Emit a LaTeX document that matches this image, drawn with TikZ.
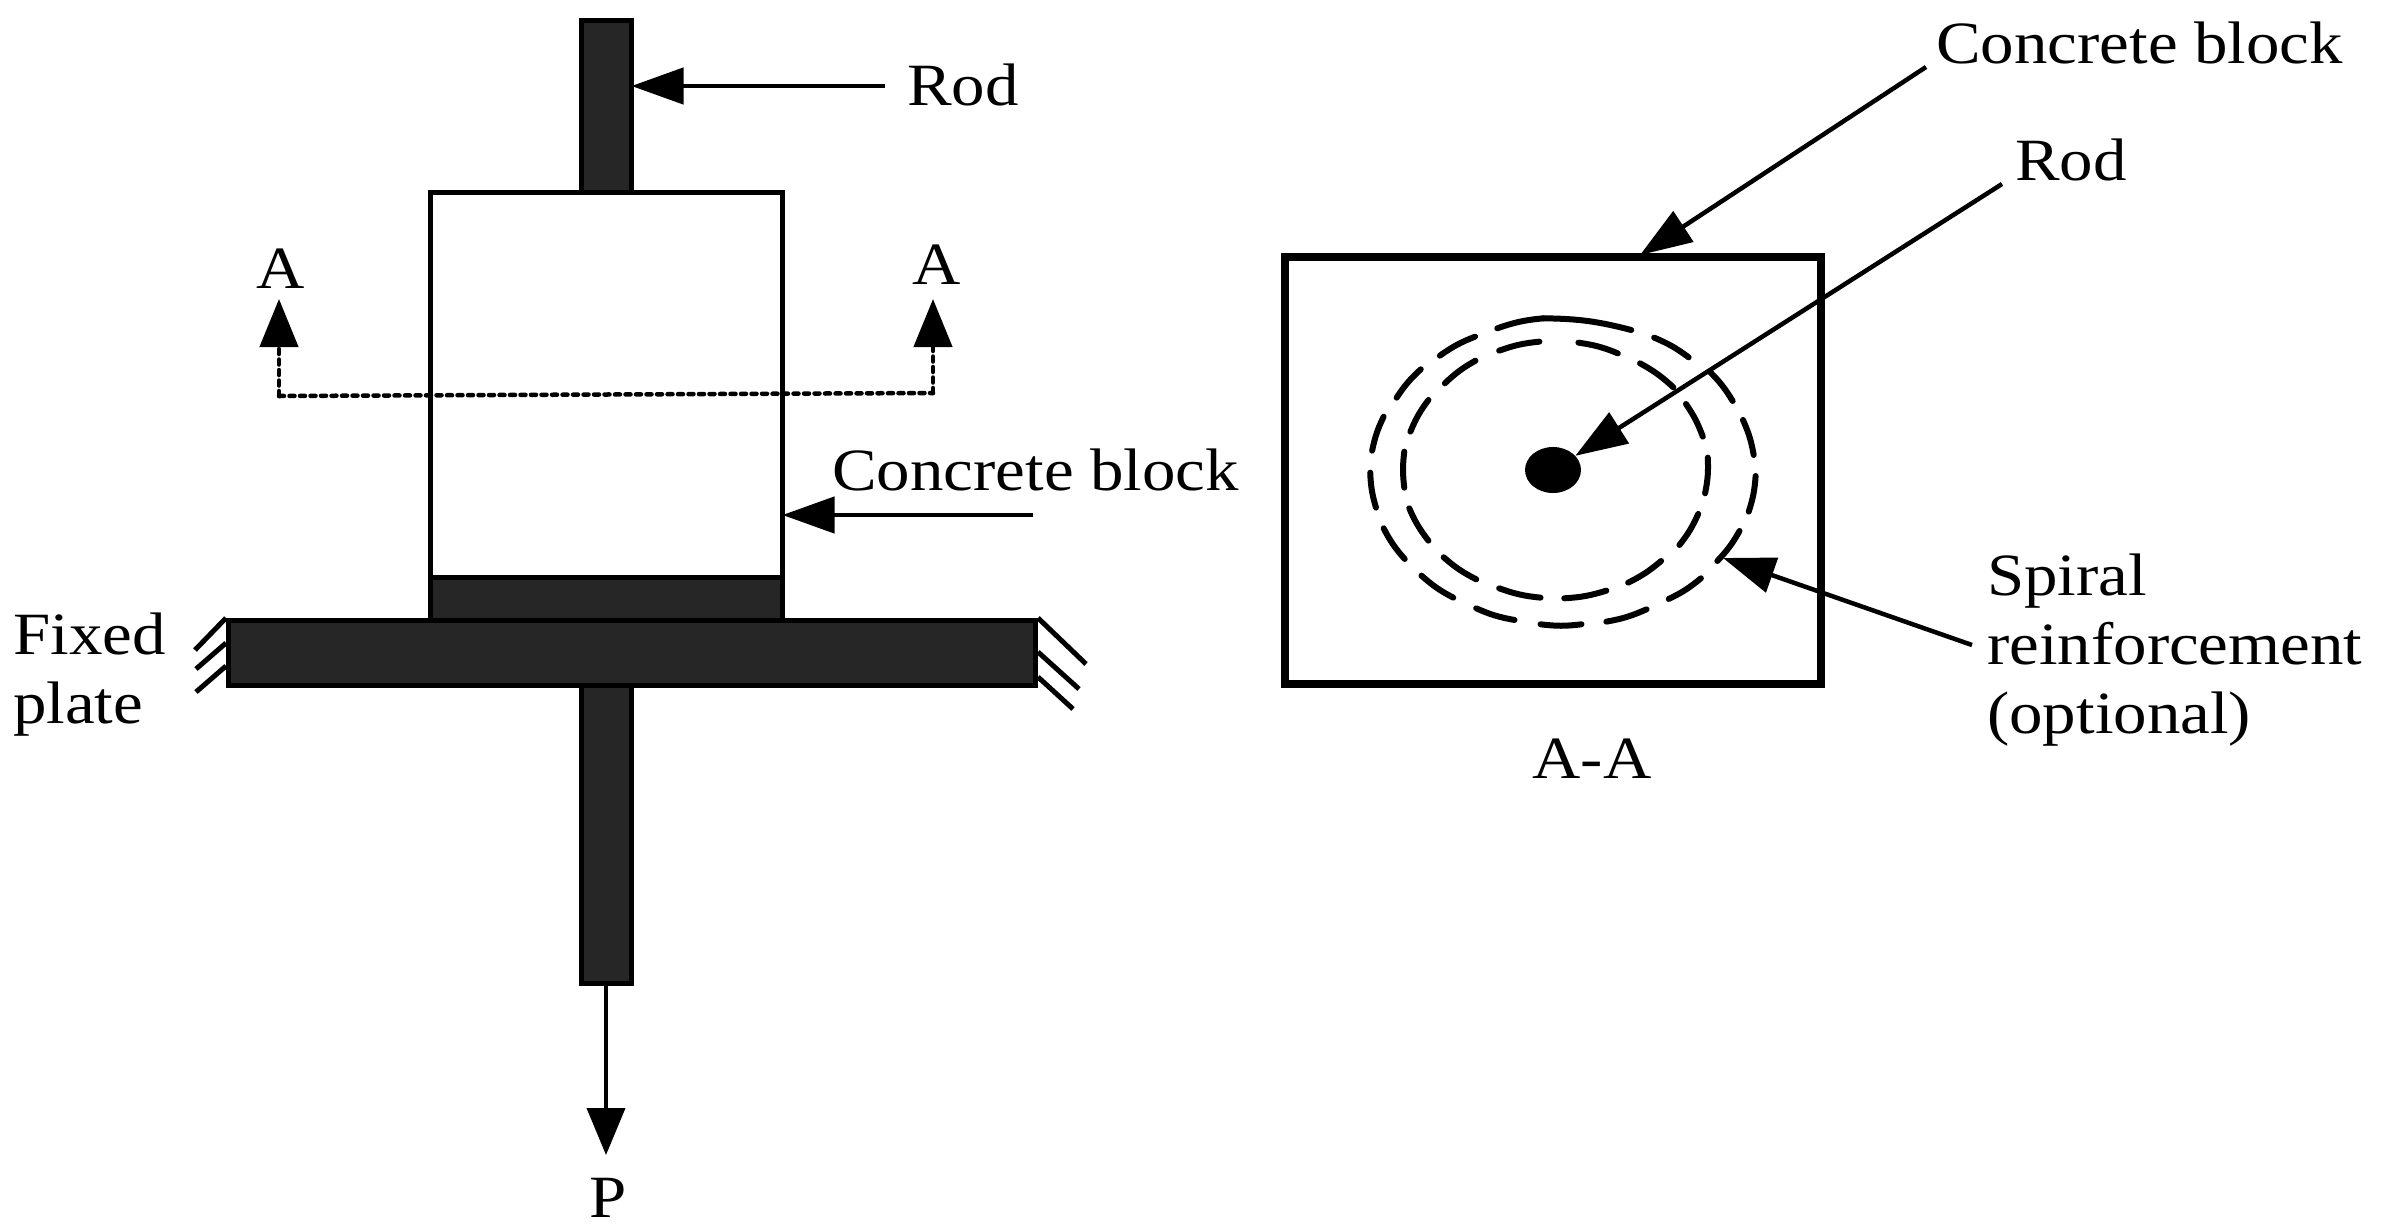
\documentclass[tikz,border=0pt]{standalone}
\usepackage{fontspec}
\setmainfont{Liberation Serif}
\usetikzlibrary{arrows.meta,shapes.geometric}
\tikzset{
  part/.style={draw=black,line width=5pt,fill=partfill,inner sep=0pt},
  lab/.style={font=\fontsize{60}{69}\selectfont,inner sep=0pt,anchor=base west,align=left,xscale=1.115,transform shape},
  labc/.style={lab,anchor=base},
  call/.style={line width=4.5pt,-{Triangle[length=52pt,width=36pt]}},
  callv/.style={line width=4pt,-{Triangle[length=47pt,width=38pt]}},
  cut/.style={line width=4.5pt,line cap=round,dash pattern=on 5pt off 5.5pt,-{Triangle[length=48pt,width=38pt]}},
  hatch/.style={line width=5pt},
  spiral/.style={line width=6pt,line cap=round},
}
\definecolor{partfill}{HTML}{262626}
\begin{document}
\begin{tikzpicture}[x=1pt,y=-1pt]
\useasboundingbox (0,0) rectangle (2384,1229);

% left view
\node[part,minimum width=50pt,minimum height=172pt] (rodTop) at (606,106) {};
\node[part,fill=white,minimum width=352pt,minimum height=386pt] (block) at (606,385) {};
\node[part,minimum width=352pt,minimum height=43pt] (base) at (606,599) {};
\node[part,minimum width=50pt,minimum height=298pt] (rodLow) at (606,834) {};
\node[part,minimum width=807pt,minimum height=65pt] (plate) at (632,653) {};

% wall hatching
\coordinate (hl1) at (195,650); \coordinate (hl2) at (196,669); \coordinate (hl3) at (196,692);
\coordinate (hr1) at (1086,664); \coordinate (hr2) at (1079,689); \coordinate (hr3) at (1073,709);
\draw[hatch] (plate.north west) -- (hl1);
\draw[hatch] ([yshift=10pt]plate.west) -- (hl2);
\draw[hatch] ([yshift=-13pt]plate.west) -- (hl3);
\draw[hatch] (plate.north east) -- (hr1);
\draw[hatch] ([yshift=1pt]plate.east) -- (hr2);
\draw[hatch] ([yshift=-24pt]plate.east) -- (hr3);

% labels on the left
\node[lab] (tRodL) at (907,105) {Rod};
\node[lab] (tBlockL) at (832,490) {Concrete block};
\node[lab] (tFixed) at (13,723) {Fixed\\plate};
\node[labc] (tP) at (608,1217) {P};
\node[labc] (tAl) at (281,288) {A};
\node[labc] (tAr) at (937,284) {A};

\coordinate (rodTail) at (885,86);
\coordinate (blockTail) at (1033,515);
\coordinate (pTip) at (606,1155);
\draw[call] (rodTail) -- ([xshift=-2pt]rodTop.east |- rodTail);
\draw[call] (blockTail) -- ([xshift=-2pt]block.east |- blockTail);
\draw[callv] (rodLow.south) -- (pTip);

% section line A-A
\coordinate (al) at (279,299); \coordinate (ar) at (933,299);
\coordinate (cl) at (279,396); \coordinate (cr) at (933,393);
\draw[cut] (cl) -- (al);
\draw[cut] (cr) -- (ar);
\draw[line width=4.5pt,line cap=round,dash pattern=on 5pt off 5.5pt] (cl) -- (cr);

% section view
\node[draw=black,line width=8pt,inner sep=0pt,minimum width=536pt,minimum height=427pt] (box) at (1553,470) {};
\begin{scope}[shift={(1260,230)},x=0.3827pt,y=-0.3333pt]
  % the two turns of the spiral, piece by piece
  \foreach \xa/\ya/\xb/\yb in {620/295/740/265, 740/265/970/300, 1030/323/1120/382, 1175/425/1235/513,
      1262/570/1290/675, 1295/738/1277/845, 1253/903/1195/993, 1152/1045/1068/1107,
      1010/1138/905/1175, 840/1183/733/1183, 665/1170/565/1135, 505/1103/422/1037,
      378/987/323/895, 303/833/288/728, 293/662/323/560, 357/503/420/418, 470/377/562/320,
      625/362/730/335, 832/338/935/370, 993/400/1080/472, 1113/522/1157/620,
      1170/683/1163/790, 1145/852/1096/945, 1048/993/962/1058, 905/1082/795/1105,
      733/1103/625/1075, 565/1048/480/982, 440/932/390/835, 377/773/377/665,
      393/605/440/510, 483/460/563/392}
    \draw[spiral] (\xa,\ya) to[bend left=7] (\xb,\yb);
\end{scope}
\node[fill=black,ellipse,inner sep=0pt,minimum width=56pt,minimum height=46pt] (bar) at (1553,470) {};

% labels on the right
\node[lab] (tBlockR) at (1936,63) {Concrete block};
\node[lab] (tRodR) at (2015,180) {Rod};
\node[lab] (tSpiral) at (1987,733) {Spiral\\reinforcement\\(optional)};
\node[labc] (tAA) at (1592,778) {A-A};

\coordinate (blockRTail) at (1926,67); \coordinate (blockRTip) at (1640,255);
\coordinate (rodRTail) at (2002,184);
\coordinate (spiralTail) at (1972,645); \coordinate (spiralTip) at (1723,558);
\draw[call] (blockRTail) -- (blockRTip);
\draw[call] (rodRTail) -- (bar);
\draw[call] (spiralTail) -- (spiralTip);
\end{tikzpicture}
\end{document}
